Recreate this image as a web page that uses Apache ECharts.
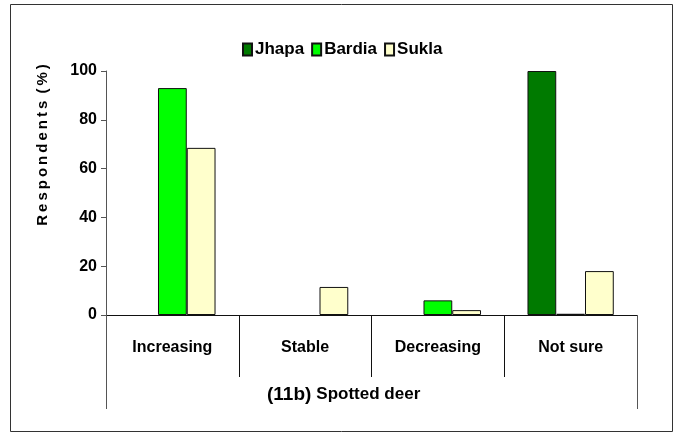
<!DOCTYPE html>
<html>
<head>
<meta charset="utf-8">
<script src="https://cdn.jsdelivr.net/npm/echarts@6/dist/echarts.min.js"></script>
<style>
  html, body { margin: 0; padding: 0; background: #fff; }
  #echartsMain { width: 680px; height: 432px; }
</style>
</head>
<body>
<div id="echartsMain"></div>
<script>
// 数据
var categories = ['Increasing', 'Stable', 'Decreasing', 'Not sure'];
var jhapa  = [0, 0, 0, 100];
var bardia = [93, 0, 6, 0.5];
var sukla  = [68.5, 11.5, 2, 18];
var yTicks = { min: 0, max: 100, interval: 20 };

var narrow = "'Liberation Sans Narrow', 'Arial Narrow', 'Liberation Sans', sans-serif";
var arial = "'Liberation Sans', Arial, sans-serif";

var myChart = echarts.init(document.getElementById('echartsMain'));

function barSeries(name, data, color) {
    return {
        name: name,
        type: 'bar',
        // 0 的柱子不画
        data: data.map(function (v) { return v === 0 ? null : v; }),
        barGap: '0%',
        barCategoryGap: '35%',
        itemStyle: { color: color, borderColor: '#111', borderWidth: 1 }
    };
}

var option = {
    animation: false,
    backgroundColor: '#fff',
    title: {
        text: '{a|(11b)} {b|Spotted deer}',
        left: 262,
        top: 380,
        textStyle: {
            rich: {
                a: { fontFamily: arial, fontWeight: 'bold', fontSize: 19, color: '#000' },
                b: { fontFamily: narrow, fontWeight: 'bold', fontSize: 17, color: '#000' }
            }
        }
    },
    legend: {
        left: 237,
        top: 36,
        itemWidth: 9,
        itemHeight: 12,
        itemGap: 7,
        icon: 'rect',
        textStyle: { fontFamily: narrow, fontWeight: 'bold', fontSize: 17, color: '#000', padding: [0, 0, 0, -2] },
        data: ['Jhapa', 'Bardia', 'Sukla']
    },
    grid: { left: 106, right: 43, top: 71, bottom: 117, containLabel: false },
    xAxis: [{
        type: 'category',
        data: categories,
        axisLine: { lineStyle: { color: '#111', width: 1 } },
        axisTick: { show: true, length: 62, lineStyle: { color: '#111' } },
        axisLabel: { margin: 25, fontFamily: narrow, fontWeight: 'bold', fontSize: 16, color: '#000' }
    }, {
        // 外侧两条竖线
        type: 'category',
        data: [''],
        position: 'bottom',
        axisLine: { show: false },
        axisTick: { show: true, length: 94, lineStyle: { color: '#555' } },
        axisLabel: { show: false }
    }],
    yAxis: {
        type: 'value',
        min: yTicks.min,
        max: yTicks.max,
        interval: yTicks.interval,
        axisLine: { show: true, lineStyle: { color: '#555' } },
        axisTick: { show: true, length: 5, lineStyle: { color: '#555' } },
        splitLine: { show: false },
        axisLabel: { margin: 9, fontFamily: narrow, fontWeight: 'bold', fontSize: 16, color: '#000' }
    },
    graphic: [{
        type: 'rect',
        shape: { x: 10.5, y: 4.5, width: 662, height: 427 },
        style: { fill: 'none', stroke: '#333', lineWidth: 1 },
        silent: true
    }, {
        type: 'text',
        x: 43,
        y: 145,
        rotation: Math.PI / 2,
        style: {
            text: 'R\u2009e\u2009s\u2009p\u2009o\u2009n\u2009d\u2009e\u2009n\u2009t\u2009s\u2009 (\u2009%\u2009)',
            font: 'bold 15px ' + arial,
            fill: '#000',
            align: 'center',
            verticalAlign: 'middle'
        },
        silent: true
    }],
    series: [
        barSeries('Jhapa', jhapa, '#007A00'),
        barSeries('Bardia', bardia, '#00FF00'),
        barSeries('Sukla', sukla, '#FFFFCC')
    ]
};

myChart.setOption(option);
</script>
</body>
</html>
